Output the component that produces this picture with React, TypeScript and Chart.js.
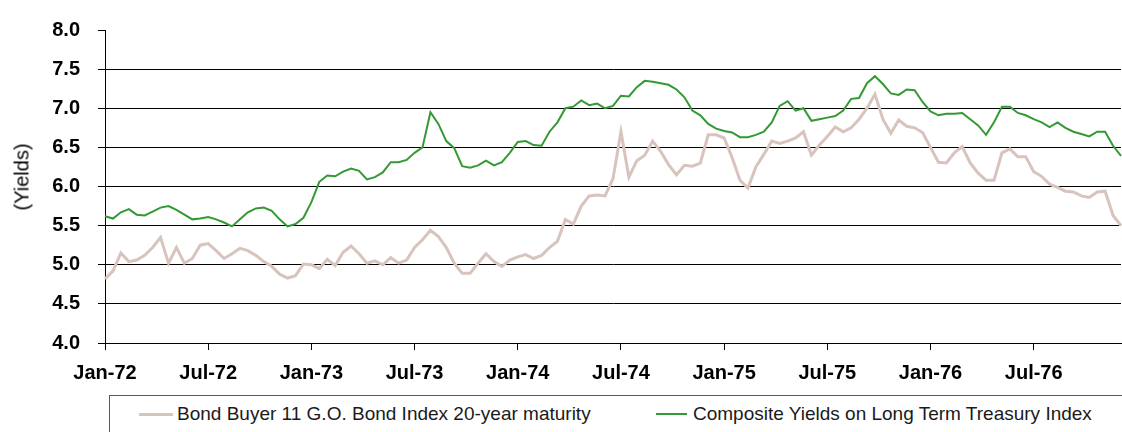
import React, { useEffect, useRef } from "react";
import { Chart, registerables } from "chart.js";

Chart.register(...registerables);

// Tick labels shown every 13 biweekly observations (half a year)
const TICK_LABELS = ["Jan-72", "Jul-72", "Jan-73", "Jul-73", "Jan-74", "Jul-74", "Jan-75", "Jul-75", "Jan-76", "Jul-76"];
const TICK_EVERY = 13;

const SERIES_BOND = "Bond Buyer 11 G.O. Bond Index 20-year maturity";
const SERIES_TREASURY = "Composite Yields on Long Term Treasury Index";

// Biweekly readings, Jan 1972 – Dec 1976
const BOND_BUYER = [
  4.82, 4.92, 5.15, 5.04, 5.06, 5.12, 5.22, 5.35, 5.02, 5.22,
  5.02, 5.08, 5.25, 5.27, 5.18, 5.08, 5.14, 5.21, 5.18, 5.12,
  5.04, 4.98, 4.88, 4.83, 4.86, 5.01, 5.00, 4.95, 5.07, 4.99,
  5.16, 5.24, 5.14, 5.02, 5.05, 5.00, 5.09, 5.02, 5.06, 5.22,
  5.32, 5.44, 5.36, 5.22, 5.02, 4.89, 4.89, 5.02, 5.14, 5.04,
  4.98, 5.06, 5.10, 5.13, 5.08, 5.12, 5.22, 5.30, 5.58, 5.52,
  5.75, 5.88, 5.89, 5.88, 6.10, 6.70, 6.12, 6.33, 6.40, 6.58,
  6.45, 6.28, 6.15, 6.27, 6.26, 6.30, 6.66, 6.66, 6.62, 6.37,
  6.08, 5.98, 6.25, 6.41, 6.58, 6.55, 6.58, 6.62, 6.70, 6.40,
  6.53, 6.64, 6.76, 6.70, 6.75, 6.86, 7.00, 7.18, 6.86, 6.68,
  6.85, 6.77, 6.75, 6.69, 6.50, 6.31, 6.30, 6.43, 6.51, 6.30,
  6.17, 6.08, 6.08, 6.43, 6.48, 6.38, 6.38, 6.19, 6.13, 6.03,
  5.99, 5.94, 5.93, 5.88, 5.86, 5.93, 5.94, 5.63, 5.50,
];

const TREASURY = [
  5.62, 5.59, 5.67, 5.71, 5.64, 5.63, 5.68, 5.73, 5.75, 5.70,
  5.64, 5.58, 5.59, 5.61, 5.58, 5.54, 5.49, 5.58, 5.67, 5.72,
  5.73, 5.69, 5.58, 5.49, 5.52, 5.60, 5.80, 6.06, 6.14, 6.13,
  6.19, 6.23, 6.20, 6.09, 6.12, 6.18, 6.31, 6.31, 6.34, 6.43,
  6.50, 6.95, 6.80, 6.58, 6.49, 6.26, 6.24, 6.27, 6.33, 6.27,
  6.31, 6.43, 6.57, 6.58, 6.53, 6.52, 6.70, 6.82, 7.00, 7.02,
  7.10, 7.04, 7.06, 7.00, 7.03, 7.16, 7.15, 7.27, 7.35, 7.34,
  7.32, 7.30, 7.24, 7.14, 6.97, 6.91, 6.80, 6.74, 6.71, 6.69,
  6.63, 6.63, 6.66, 6.70, 6.82, 7.03, 7.09, 6.97, 7.00, 6.84,
  6.86, 6.88, 6.90, 6.97, 7.12, 7.13, 7.32, 7.41, 7.31, 7.19,
  7.17, 7.24, 7.23, 7.08, 6.96, 6.91, 6.93, 6.93, 6.94, 6.86,
  6.78, 6.66, 6.82, 7.02, 7.02, 6.94, 6.91, 6.86, 6.82, 6.76,
  6.82, 6.75, 6.70, 6.67, 6.64, 6.70, 6.70, 6.52, 6.39,
];

// Category labels: one per biweekly observation date
const START_DATE = new Date(Date.UTC(1972, 0, 7));
const DATES = BOND_BUYER.map((_, i) => {
  const d = new Date(START_DATE.getTime() + i * 14 * 86400000);
  return d.toISOString().slice(0, 10);
});

const FONT_FAMILY = '"Liberation Sans", Arial, Helvetica, sans-serif';
const BOND_COLOR = "#D8C3BD";
const TREASURY_COLOR = "#339933";

export default function App() {
  const canvasRef = useRef<HTMLCanvasElement | null>(null);

  useEffect(() => {
    const canvas = canvasRef.current;
    if (!canvas) return;
    const chart = new Chart(canvas, {
      type: "line",
      data: {
        labels: DATES,
        datasets: [
          {
            label: SERIES_BOND,
            data: BOND_BUYER,
            borderColor: BOND_COLOR,
            backgroundColor: BOND_COLOR,
            borderWidth: 3,
            pointRadius: 0,
            tension: 0,
            order: 2,
          },
          {
            label: SERIES_TREASURY,
            data: TREASURY,
            borderColor: TREASURY_COLOR,
            backgroundColor: TREASURY_COLOR,
            borderWidth: 2,
            pointRadius: 0,
            tension: 0,
            order: 1,
          },
        ],
      },
      options: {
        responsive: false,
        animation: false,
        devicePixelRatio: 1,
        layout: { padding: { top: 17, right: 1, left: 0, bottom: 0 } },
        plugins: {
          legend: { display: false },
          tooltip: { enabled: false },
          title: { display: false },
        },
        scales: {
          x: {
            type: "category",
            offset: false,
            grid: {
              offset: false,
              drawOnChartArea: false,
              drawTicks: true,
              tickLength: 7,
              color: (ctx: any) => (ctx.index % TICK_EVERY === 0 ? "#000000" : "rgba(0,0,0,0)"),
            },
            border: { display: true, color: "#000000", width: 1 },
            ticks: {
              autoSkip: false,
              maxRotation: 0,
              minRotation: 0,
              padding: 11,
              color: "#000000",
              font: { family: FONT_FAMILY, size: 20, weight: "bold" },
              callback: (_v: any, i: number) =>
                i % TICK_EVERY === 0 ? TICK_LABELS[i / TICK_EVERY] ?? "" : "",
            },
            afterFit: (s: any) => {
              s.height = 49;
              s.paddingLeft = 0;
              s.paddingRight = 0;
            },
          },
          y: {
            min: 4,
            max: 8,
            ticks: {
              stepSize: 0.5,
              padding: 18,
              color: "#000000",
              font: { family: FONT_FAMILY, size: 20, weight: "bold" },
              callback: (v: any) => Number(v).toFixed(1),
            },
            grid: {
              color: (ctx: any) => (ctx.tick && ctx.tick.value === 8 ? "rgba(0,0,0,0)" : "#000000"),
              tickColor: "#000000",
              tickLength: 7,
              lineWidth: 1,
            },
            border: { display: true, color: "#000000", width: 1 },
            afterFit: (s: any) => {
              s.width = 105;
            },
          },
        },
      },
    });
    return () => chart.destroy();
  }, []);

  const textStyle: React.CSSProperties = {
    position: "absolute",
    fontFamily: FONT_FAMILY,
    fontSize: 19,
    lineHeight: "22px",
    color: "#1a1a1a",
    whiteSpace: "nowrap",
  };

  return (
    <div
      style={{
        position: "absolute",
        left: 0,
        top: 0,
        width: 1122,
        height: 432,
        overflow: "hidden",
        background: "#ffffff",
      }}
    >
      <canvas ref={canvasRef} width={1122} height={392} style={{ position: "absolute", left: 0, top: 0, width: 1122, height: 392 }} />
      <div
        style={{
          position: "absolute",
          left: 22,
          top: 177,
          transform: "translate(-50%, -50%) rotate(-90deg)",
          fontFamily: FONT_FAMILY,
          fontSize: 20,
          color: "#000000",
          whiteSpace: "nowrap",
        }}
      >
        (Yields)
      </div>
      <div
        style={{
          position: "absolute",
          left: 109,
          top: 395,
          width: 1030,
          height: 60,
          border: "1px solid #5a5a5a",
          boxSizing: "border-box",
        }}
      />
      <div style={{ position: "absolute", left: 139, top: 413, width: 34, height: 3, background: BOND_COLOR }} />
      <div style={{ ...textStyle, left: 177, top: 403 }}>{SERIES_BOND}</div>
      <div style={{ position: "absolute", left: 656, top: 413, width: 31, height: 2, background: TREASURY_COLOR }} />
      <div style={{ ...textStyle, left: 693, top: 403 }}>{SERIES_TREASURY}</div>
    </div>
  );
}
